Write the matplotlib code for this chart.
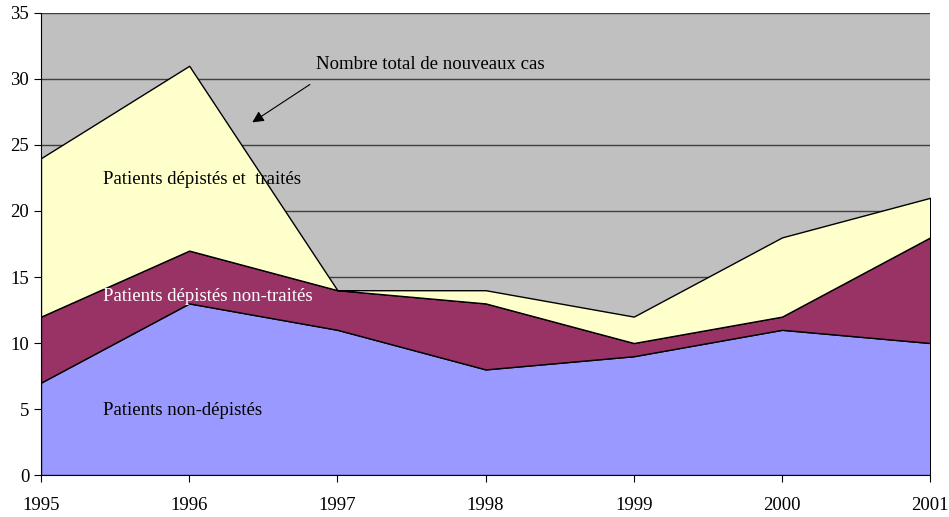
import matplotlib
matplotlib.use("Agg")
import matplotlib.pyplot as plt

years = [1995, 1996, 1997, 1998, 1999, 2000, 2001]
non_depistes = [7, 13, 11, 8, 9, 11, 10]
depistes_non_traites = [5, 4, 3, 5, 1, 1, 8]
depistes_traites = [12, 14, 0, 1, 2, 6, 3]

colors = ['#9999FF', '#993366', '#FFFFCC']

plt.rcParams['font.family'] = ['Liberation Serif', 'DejaVu Serif']

fig = plt.figure(figsize=(9.49, 5.17), dpi=100)
ax = fig.add_axes([0.0432, 0.0812, 0.937, 0.8937])
ax.set_facecolor('#C0C0C0')

ax.stackplot(years, non_depistes, depistes_non_traites, depistes_traites,
             colors=colors, edgecolor='black', linewidth=1, zorder=3)

ax.set_xlim(1995, 2001)
ax.set_ylim(0, 35)
ax.set_yticks(range(0, 36, 5))
ax.set_xticks(years)
ax.yaxis.grid(True, color='#404040', linewidth=1)
ax.set_axisbelow(True)
for side in ['top', 'right']:
    ax.spines[side].set_visible(False)
ax.tick_params(axis='both', labelsize=13.5, direction='out', length=5, color='black')
ax.tick_params(axis='x', pad=11)

fs = 13.5
ax.text(1996.856, 31.06, 'Nombre total de nouveaux cas', fontsize=fs,
        va='center', ha='left', zorder=5)
ax.annotate('', xy=(1996.41, 26.6), xytext=(1996.83, 29.7),
            arrowprops=dict(arrowstyle='-|>', color='black', lw=0.8,
                            mutation_scale=17), zorder=5)
ax.text(1995.418, 22.35, 'Patients dépistés et  traités', fontsize=fs,
        va='center', ha='left', zorder=5)
ax.text(1995.418, 13.56, 'Patients dépistés non-traités', fontsize=fs,
        va='center', ha='left', color='white', zorder=5)
ax.text(1995.418, 4.92, 'Patients non-dépistés', fontsize=fs,
        va='center', ha='left', zorder=5)

fig.savefig('out.png', dpi=100)
